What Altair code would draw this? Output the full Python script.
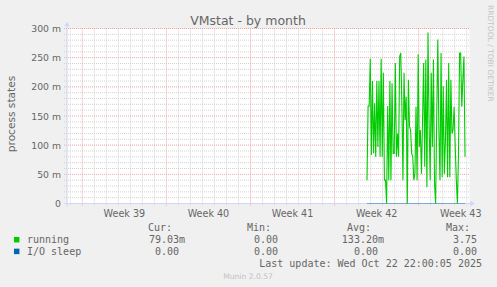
import altair as alt
import pandas as pd

# ---------------- data ----------------
# running processes (milli process states), 2-hour samples
RUNNING_M = [40, 167, 167, 248, 83, 210, 86, 172, 80, 210,
             97, 210, 80, 248, 80, 224, 40, 40, 0, 167,
             40, 210, 40, 206, 86, 86, 241, 80, 120, 80,
             252, 258, 172, 40, 224, 143, 183, 0, 212, 132,
             126, 86, 80, 40, 51, 166, 40, 256, 97, 126,
             51, 143, 241, 63, 247, 28, 293, 137, 40, 224,
             97, 247, 34, 0, 149, 281, 126, 40, 258, 45,
             201, 51, 109, 212, 45, 241, 45, 212, 120, 126,
             166, 97, 40, 0, 86, 258, 258, 166, 212, 252,
             80]
RUN_START_DAY = 24.97      # days from the left edge of the graph
RUN_END_DAY = 33.13
X_DOMAIN_DAYS = [0, 33.46]
Y_DOMAIN = [0, 0.3]

WEEK_NAMES = ["Week 39", "Week 40", "Week 41", "Week 42", "Week 43"]
WEEK_START_DAYS = [1.273, 8.273, 15.273, 22.273, 29.273]
DAY_GRID = [0.273 + k for k in range(34)]
Y_LABELS_M = [0, 50, 100, 150, 200, 250, 300]
Y_MAJOR_M = [50, 100, 150, 200, 250, 300]
Y_MINOR_M = [v for v in range(10, 300, 10) if v % 50]

SERIES = ["running", "I/O sleep"]
SERIES_COLORS = ["#00CC00", "#0066B3"]
STAT_HEADERS = ["Cur:", "Min:", "Avg:", "Max:"]
STATS = {"running": ["79.03m", "0.00", "133.20m", "3.75"],
         "I/O sleep": ["0.00", "0.00", "0.00", "0.00"]}

TITLE = "VMstat - by month"
Y_TITLE = "process states"
LAST_UPDATE = "Last update: Wed Oct 22 22:00:05 2025"
VERSION = "Munin 2.0.57"
WATERMARK = "RRDTOOL / TOBI OETIKER"

# ---------------- layout ----------------
OX, OY = 67, 28.5          # plot origin on the page
PW, PH = 402, 175
TXT = "#666666"
SANS = "DejaVu Sans"
MONO = "DejaVu Sans Mono"
AXIS_C = "#CFD6F8"
GRID_C = "#d2d2d2"
MGRID_C = "#eda5a5"

xs = alt.Scale(domain=X_DOMAIN_DAYS, nice=False, zero=False)
ys = alt.Scale(domain=Y_DOMAIN, nice=False, zero=False)
colsc = alt.Scale(domain=SERIES, range=SERIES_COLORS)

n = len(RUNNING_M)
step = (RUN_END_DAY - RUN_START_DAY) / (n - 1)
days = [RUN_START_DAY + i * step for i in range(n)]
run_df = pd.DataFrame({"day": days, "v": [m / 1000 for m in RUNNING_M], "series": "running"})
io_df = pd.DataFrame({"day": days, "v": [0.0] * n, "series": "I/O sleep"})

dummy = alt.Data(values=[{"a": 1}])


def label(text, px, py, size, color=TXT, align="left", angle=0, font=SANS, baseline="alphabetic"):
    kw = dict(text=text, align=align, baseline=baseline, font=font, fontSize=size, color=color)
    if angle:
        kw["angle"] = angle
    return alt.Chart(dummy).mark_text(**kw).encode(x=alt.value(px - OX), y=alt.value(py - OY))


layers = []

# minor grid (gray dotted)
layers.append(alt.Chart(pd.DataFrame({"v": [m / 1000 for m in Y_MINOR_M]})).mark_rule(
    color=GRID_C, strokeDash=[1, 1], strokeWidth=1).encode(
    y=alt.Y("v:Q", scale=ys, axis=None), x=alt.value(-3), x2=alt.value(PW)))
layers.append(alt.Chart(pd.DataFrame({"day": [d for d in DAY_GRID if round(d - 1.273) % 7]})).mark_rule(
    color=GRID_C, strokeDash=[1, 1], strokeWidth=1).encode(
    x=alt.X("day:Q", scale=xs, axis=None), y=alt.value(0), y2=alt.value(PH + 2.5)))
# major grid (red dotted)
layers.append(alt.Chart(pd.DataFrame({"v": [m / 1000 for m in Y_MAJOR_M]})).mark_rule(
    color=MGRID_C, strokeDash=[1, 1], strokeWidth=1).encode(
    y=alt.Y("v:Q", scale=ys, axis=None), x=alt.value(-3), x2=alt.value(PW)))
layers.append(alt.Chart(pd.DataFrame({"day": WEEK_START_DAYS})).mark_rule(
    color=MGRID_C, strokeDash=[1, 1], strokeWidth=1).encode(
    x=alt.X("day:Q", scale=xs, axis=None), y=alt.value(0), y2=alt.value(PH + 3)))

# axes
layers.append(alt.Chart(dummy).mark_rule(color=AXIS_C, strokeWidth=1).encode(
    x=alt.value(0), y=alt.value(-3), y2=alt.value(PH + 3)))
layers.append(alt.Chart(dummy).mark_rule(color=AXIS_C, strokeWidth=1).encode(
    x=alt.value(-3), x2=alt.value(PW + 1), y=alt.value(PH)))
layers.append(alt.Chart(dummy).mark_point(shape="triangle-up", filled=True, size=28, color=AXIS_C, opacity=1).encode(
    x=alt.value(0), y=alt.value(-4.5)))
layers.append(alt.Chart(dummy).mark_point(shape="triangle-right", filled=True, size=28, color=AXIS_C, opacity=1).encode(
    x=alt.value(PW + 3.5), y=alt.value(PH)))

# series
layers.append(alt.Chart(run_df).mark_line(strokeWidth=1.1).encode(
    x=alt.X("day:Q", scale=xs, axis=None), y=alt.Y("v:Q", scale=ys, axis=None),
    color=alt.Color("series:N", scale=colsc, legend=None)))
layers.append(alt.Chart(io_df).mark_line(strokeWidth=1, opacity=0.45).encode(
    x=alt.X("day:Q", scale=xs, axis=None), y=alt.Y("v:Q", scale=ys, axis=None),
    color=alt.Color("series:N", scale=colsc, legend=None)))

# y tick labels
ylab = pd.DataFrame({"v": [m / 1000 for m in Y_LABELS_M],
                     "t": ["0" if m == 0 else f"{m} m" for m in Y_LABELS_M]})
layers.append(alt.Chart(ylab).mark_text(align="right", baseline="middle", font=SANS, fontSize=9.3,
                                         color=TXT, dy=0.5).encode(
    y=alt.Y("v:Q", scale=ys, axis=None), x=alt.value(-6), text="t:N"))

# week labels
wlab = pd.DataFrame({"day": [d + 3.5 for d in WEEK_START_DAYS], "t": WEEK_NAMES})
layers.append(alt.Chart(wlab).mark_text(align="center", baseline="alphabetic", font=SANS, fontSize=9.6,
                                         color=TXT).encode(
    x=alt.X("day:Q", scale=xs, axis=None), y=alt.value(216.7 - OY), text="t:N"))

# titles / decorations
layers.append(label(TITLE, 248, 24.7, 12.5, align="center"))
layers.append(label(Y_TITLE, 12, 114, 10.6, align="center", angle=270, baseline="middle"))
layers.append(label(WATERMARK, 489.5, 5, 7.5, color="#c4c4c4", align="left", angle=90, baseline="middle"))

# legend
CH = 6.02
COL_RIGHT = [185, 284, 384, 483]
for h, r in zip(STAT_HEADERS, COL_RIGHT):
    layers.append(label(h, r - 13, 230.7, 10, font=MONO, align="right"))
ROW_BASE = [243.3, 255.0]
for s, c, yb in zip(SERIES, SERIES_COLORS, ROW_BASE):
    layers.append(alt.Chart(dummy).mark_square(size=30, color=c, opacity=1).encode(
        x=alt.value(16.7 - OX), y=alt.value(yb - 3.6 - OY)))
    layers.append(label(s, 27, yb, 10, font=MONO))
    for val, r in zip(STATS[s], COL_RIGHT):
        rr = r if val.endswith("m") else r - CH
        layers.append(label(val, rr, yb, 10, font=MONO, align="right"))

layers.append(label(LAST_UPDATE, 482, 266.7, 10, font=MONO, align="right"))
layers.append(label(VERSION, 248, 279, 7.6, color="#c2c2c2", align="center"))

chart = alt.layer(*layers).properties(
    width=PW, height=PH,
    autosize=alt.AutoSizeParams(type="none"),
    padding={"left": OX, "top": OY, "right": 497 - OX - PW, "bottom": 287 - OY - PH},
).configure(background="#F0F0F0").configure_view(fill="white", stroke="transparent")

chart.save("out.html", embed_options={"renderer": "svg", "actions": False})
